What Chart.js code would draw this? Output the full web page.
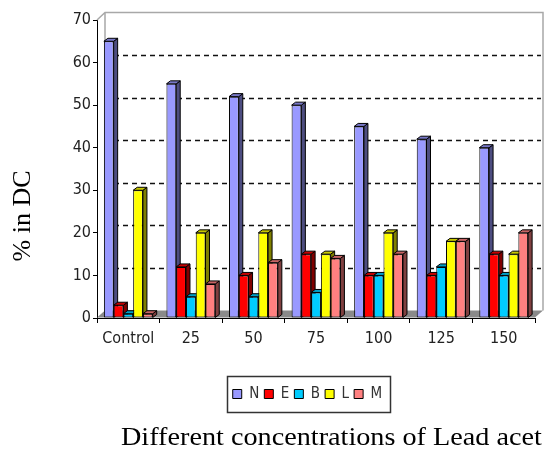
<!DOCTYPE html>
<html><head><meta charset="utf-8">
<script src="https://cdn.jsdelivr.net/npm/chart.js@4.4.0/dist/chart.umd.min.js"></script>
<style>html,body{margin:0;padding:0;background:#fff;overflow:hidden}canvas{display:block}</style>
</head><body>
<canvas id="c" width="546" height="449"></canvas>
<script>
const categories = ['Control', '25', '50', '75', '100', '125', '150'];
const seriesNames = ['N', 'E', 'B', 'L', 'M'];
const valuesN = [65, 55, 52, 50, 45, 42, 40];
const valuesE = [3, 12, 10, 15, 10, 10, 15];
const valuesB = [1, 5, 5, 6, 10, 12, 10];
const valuesL = [30, 20, 20, 15, 20, 18, 15];
const valuesM = [1, 8, 13, 14, 15, 18, 20];
const yTicks = [0, 10, 20, 30, 40, 50, 60, 70];
const seriesColors = ['#9999FF', '#FF0000', '#00CCFF', '#FFFF00', '#FF8080'];
const yTitle = '% in DC';
const xTitle = 'Different concentrations of Lead acet';

const allValues = [valuesN, valuesE, valuesB, valuesL, valuesM];

function shade(hex, f) {
  const n = parseInt(hex.slice(1), 16);
  const r = Math.round(((n >> 16) & 255) * f), g = Math.round(((n >> 8) & 255) * f), b = Math.round((n & 255) * f);
  return 'rgb(' + r + ',' + g + ',' + b + ')';
}

const sansFamily = "'DejaVu Sans Condensed', 'Liberation Sans Narrow', 'Liberation Sans', Arial, sans-serif";
const tickFont = {family: sansFamily, size: 16};
const WX = 8, WY = 7.5, BX = 4, BY = 3;

function poly(ctx, pts, fill) {
  ctx.beginPath();
  ctx.moveTo(pts[0][0], pts[0][1]);
  for (let i = 1; i < pts.length; i++) ctx.lineTo(pts[i][0], pts[i][1]);
  ctx.closePath();
  ctx.fillStyle = fill;
  ctx.fill();
  ctx.stroke();
}

const threeD = {
  id: 'threeD',
  afterLayout(chart) {
    const lg = chart.legend;
    if (!lg) return;
    const dx = 307.5 - (lg.left + lg.right) / 2;
    lg.left += dx; lg.right += dx;
    const dy = 381.5 - lg.top;
    lg.top += dy; lg.bottom += dy;
  },
  beforeDatasetsDraw(chart) {
    const ctx = chart.ctx, a = chart.chartArea, ys = chart.scales.y;
    const base = ys.getPixelForValue(0);
    ctx.save();
    ctx.strokeStyle = '#a8a8a8';
    ctx.lineWidth = 1.5;
    ctx.beginPath();
    ctx.moveTo(a.left, a.top);
    ctx.lineTo(a.left + WX, a.top - WY);
    ctx.lineTo(a.right + WX, a.top - WY);
    ctx.lineTo(a.right + WX, base - WY);
    ctx.moveTo(a.left + WX, a.top - WY);
    ctx.lineTo(a.left + WX, base - WY);
    ctx.stroke();
    ctx.setLineDash([5, 4]);
    ctx.strokeStyle = '#111';
    ctx.lineWidth = 1.4;
    yTicks.forEach(v => {
      if (v <= ys.min || v >= ys.max) return;
      const y = Math.round(ys.getPixelForValue(v) - WY) + 0.5;
      ctx.beginPath();
      ctx.moveTo(a.left + WX, y);
      ctx.lineTo(a.right + WX - 2, y);
      ctx.stroke();
    });
    ctx.setLineDash([]);
    ctx.fillStyle = '#8a8a8a';
    ctx.beginPath();
    ctx.moveTo(a.left, base - 0.5);
    ctx.lineTo(a.right, base - 0.5);
    ctx.lineTo(a.right + WX, base - WY);
    ctx.lineTo(a.left + WX, base - WY);
    ctx.closePath();
    ctx.fill();
    ctx.strokeStyle = '#000';
    ctx.lineWidth = 1;
    chart.data.datasets.forEach((ds, i) => {
      const meta = chart.getDatasetMeta(i);
      const col = seriesColors[i];
      meta.data.forEach(bar => {
        const p = bar.getProps(['x', 'y', 'base', 'width'], true);
        const l = p.x - p.width / 2, r = p.x + p.width / 2;
        poly(ctx, [[r, p.y], [r + BX, p.y - BY], [r + BX, p.base - BY], [r, p.base]], shade(col, 0.5));
        poly(ctx, [[l, p.y], [r, p.y], [r + BX, p.y - BY], [l + BX, p.y - BY]], shade(col, 0.78));
      });
    });
    ctx.restore();
  },
  afterDraw(chart) {
    const ctx = chart.ctx;
    ctx.save();
    const lg = chart.legend;
    if (lg && lg.legendHitBoxes && lg.legendHitBoxes.length) {
      const hb = lg.legendHitBoxes;
      let l = Infinity, r = -Infinity, cy = hb[0].top + hb[0].height / 2;
      hb.forEach(h => { l = Math.min(l, h.left); r = Math.max(r, h.left + h.width); });
      ctx.strokeStyle = '#333';
      ctx.lineWidth = 1.5;
      ctx.strokeRect(Math.round(l - 6) + 0.5, Math.round(cy - 18) + 0.5, Math.round(r - l + 13), 36);
    }
    ctx.fillStyle = '#000';
    ctx.font = "26px 'Liberation Serif', 'Times New Roman', serif";
    ctx.textAlign = 'center';
    ctx.textBaseline = 'alphabetic';
    ctx.save();
    ctx.translate(30, 216);
    ctx.rotate(-Math.PI / 2);
    ctx.fillText(yTitle, 0, 0);
    ctx.restore();
    ctx.save();
    ctx.translate(121, 445);
    ctx.scale(1.085, 1);
    ctx.textAlign = 'left';
    ctx.fillText(xTitle, 0, 0);
    ctx.restore();
    ctx.restore();
  }
};

const datasets = seriesNames.map((name, i) => ({
  label: name,
  data: allValues[i],
  backgroundColor: seriesColors[i],
  borderColor: '#000',
  borderWidth: 1,
  borderSkipped: false,
  barPercentage: 1.0,
  categoryPercentage: 0.78
}));

new Chart(document.getElementById('c'), {
  type: 'bar',
  data: {labels: categories, datasets: datasets},
  options: {
    responsive: false,
    animation: false,
    devicePixelRatio: 1,
    events: [],
    layout: {padding: {top: 20, right: 11, bottom: 37.5, left: 0}},
    plugins: {
      tooltip: {enabled: false},
      title: {display: false},
      legend: {
        display: true,
        position: 'bottom',
        fullSize: false,
        labels: {
          boxWidth: 9,
          boxHeight: 9,
          padding: 5,
          color: '#333',
          font: {family: sansFamily, size: 15}
        }
      }
    },
    scales: {
      x: {
        offset: true,
        grid: {display: true, drawOnChartArea: false, drawTicks: true, tickLength: 5, color: '#000', offset: true},
        border: {display: true, color: '#000', width: 1},
        ticks: {font: tickFont, color: '#222', padding: 6, maxRotation: 0, autoSkip: false},
        afterFit(s) { s.height = 63.5; }
      },
      y: {
        min: 0,
        max: 70,
        afterBuildTicks(s) { s.ticks = yTicks.map(v => ({value: v})); },
        grid: {display: true, drawOnChartArea: false, drawTicks: true, tickLength: 4, color: '#000'},
        border: {display: true, color: '#000', width: 1},
        ticks: {font: tickFont, color: '#222', padding: 2},
        afterFit(s) { s.width = 97; }
      }
    }
  },
  plugins: [threeD]
});
</script>
</body></html>
